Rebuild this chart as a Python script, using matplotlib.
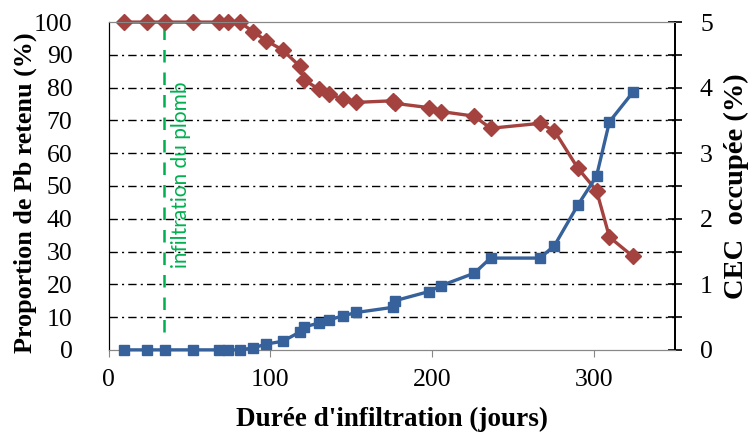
import numpy as np
import matplotlib
matplotlib.use("Agg")
from matplotlib import pyplot as plt

# durée d'infiltration (jours)
jours = [9.5, 24, 35, 52, 68, 74, 81, 89.5, 97.5, 107.5, 118, 121, 130, 136.5,
         145, 153, 176, 177, 198, 205.5, 226, 236, 266.5, 275.5, 290, 301.5,
         309.5, 324]
# proportion de Pb retenu (%)
pb_retenu = [100, 100, 100, 100, 100, 100, 100, 97.0, 94.3, 91.5, 86.6, 82.3,
             79.5, 78.0, 76.4, 75.5, 76.0, 75.2, 73.9, 72.7, 71.3, 67.6, 69.1,
             66.8, 55.4, 48.6, 34.4, 28.5]
# CEC occupée (%)
cec = [0, 0, 0, 0, 0, 0, 0, 0.03, 0.09, 0.13, 0.27, 0.35, 0.41, 0.46, 0.52,
       0.57, 0.65, 0.75, 0.89, 0.98, 1.17, 1.40, 1.40, 1.59, 2.21, 2.65, 3.48,
       3.93]

debut_plomb = 34
x_ticks = [0, 100, 200, 300]
y_ticks = list(range(0, 101, 10))
y2_ticks = [0, 1, 2, 3, 4, 5]

red = "#A3423E"
blue = "#36619A"
green = "#00B050"
serif = "Liberation Serif"

fig = plt.figure(figsize=(7.5, 4.33), dpi=100)
ax = fig.add_axes([0.1448, 0.192, 0.7552, 0.757])

# grille pointillée
for yv in y_ticks[1:-1]:
    ax.axhline(yv, color="black", lw=1.0, ls=(0, (6, 3, 1.5, 3)), zorder=1)

ax.plot(jours, pb_retenu, color=red, lw=2.4, marker="D", markersize=8,
        zorder=3, clip_on=False)

# ligne début infiltration
ax.plot([debut_plomb, debut_plomb], [5.6, 100], color=green, lw=1.8,
        ls=(0, (5, 4)), zorder=2)
ax.text(debut_plomb + 11, 53.5, "infiltration du plomb", rotation=90,
        color=green, fontsize=15, family="Lato", ha="center", va="center")

ax.set_xlim(0, 350)
ax.set_ylim(0, 100)
ax.set_xticks(x_ticks)
ax.set_yticks(y_ticks)

ax2 = ax.twinx()
ax2.plot(jours, cec, color=blue, lw=2.4, marker="s", markersize=7.5,
         zorder=3, clip_on=False)
ax2.set_ylim(0, 5)
ax2.set_yticks(y2_ticks)
ax2.set_yticks(np.arange(0.5, 5, 1.0), minor=True)

for a in (ax, ax2):
    a.spines["top"].set_color("#888888")
    a.spines["bottom"].set_color("#888888")
    a.spines["left"].set_color("black")
    a.spines["right"].set_color("black")
    a.spines["right"].set_linewidth(1.3)

ax.tick_params(axis="x", direction="out", length=5, color="#888888",
               labelsize=18.5, pad=9)
ax.tick_params(axis="y", length=0, labelsize=18.5, pad=26)
ax2.tick_params(axis="y", which="both", direction="inout", length=10,
                width=1.2, labelsize=18.5, pad=13)

for lab in ax.get_xticklabels() + ax.get_yticklabels() + ax2.get_yticklabels():
    lab.set_family(serif)

ax.set_xlabel("Durée d'infiltration (jours)", family=serif, fontsize=19.5,
              fontweight="bold", labelpad=11)
ax.set_ylabel("Proportion de Pb retenu (%)", family=serif, fontsize=18.8,
              fontweight="bold")
ax.yaxis.set_label_coords(-0.127, 0.478)
ax2.set_ylabel("CEC  occupée (%)", family=serif, fontsize=20.5,
               fontweight="bold", labelpad=8)

fig.savefig("out.png", dpi=100)
